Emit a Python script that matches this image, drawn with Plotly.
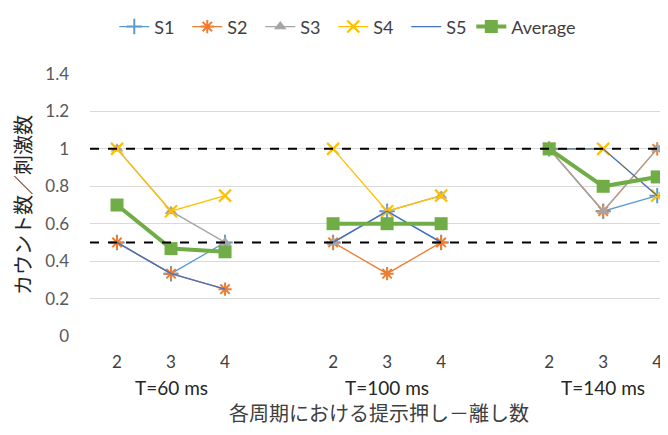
import plotly.graph_objects as go

groups = ["T=60 ms", "T=100 ms", "T=140 ms"]
counts = ["2", "3", "4"]

S1 = [0.5, 0.333, 0.5,   0.5, 0.667, 0.5,   1.0, 0.667, 0.75]
S2 = [0.5, 0.333, 0.25,  0.5, 0.333, 0.5,   1.0, 0.667, 1.0]
S3 = [1.0, 0.667, 0.5,   0.5, 0.667, 0.75,  1.0, 0.667, 1.0]
S4 = [1.0, 0.667, 0.75,  1.0, 0.667, 0.75,  1.0, 1.0, 0.75]
S5 = [0.5, 0.333, 0.25,  0.5, 0.667, 0.5,   1.0, 1.0, 0.75]
AVG = [0.70, 0.467, 0.45, 0.60, 0.60, 0.60, 1.0, 0.80, 0.85]

y_ticks = [0, 0.2, 0.4, 0.6, 0.8, 1.0, 1.2, 1.4]
y_ticklabels = ["0", "0.2", "0.4", "0.6", "0.8", "1", "1.2", "1.4"]
ref_lines = [1.0, 0.5]

FONT = "Lato, 'Noto Sans CJK JP', sans-serif"
JP_FONT = "'Noto Sans CJK JP', sans-serif"

# category positions: 3 per group, one empty slot between groups
xpos = []
for g in range(len(groups)):
    for j in range(len(counts)):
        xpos.append(g * (len(counts) + 1) + j)


def with_gaps(vals):
    xs, ys = [], []
    n = len(counts)
    for g in range(len(groups)):
        xs += xpos[g * n:(g + 1) * n]
        ys += vals[g * n:(g + 1) * n]
        if g < len(groups) - 1:
            xs.append(None)
            ys.append(None)
    return xs, ys


series = [
    ("S1", S1, "#5B9BD5", 1.3, dict(symbol="cross-thin-open", size=11, line=dict(width=2, color="#5B9BD5")), "lines+markers", "legend"),
    ("S2", S2, "#ED7D31", 1.3, dict(symbol="asterisk-open", size=11, line=dict(width=2, color="#ED7D31")), "lines+markers", "legend"),
    ("S3", S3, "#A5A5A5", 1.3, dict(symbol="triangle-up", size=11, color="#A5A5A5"), "lines+markers", "legend"),
    ("S4", S4, "#FFC000", 1.3, dict(symbol="x-thin-open", size=12, line=dict(width=2.2, color="#FFC000")), "lines+markers", "legend"),
    ("S5", S5, "#4472C4", 1.3, None, "lines", "legend"),
    ("Average", AVG, "#70AD47", 4, dict(symbol="square", size=13, color="#70AD47"), "lines+markers", "legend2"),
]

fig = go.Figure()
for name, vals, color, width, marker, mode, leg in series:
    xs, ys = with_gaps(vals)
    kw = dict(x=xs, y=ys, name=name, mode=mode, line=dict(color=color, width=width),
              connectgaps=False, legend=leg)
    if marker:
        kw["marker"] = marker
    fig.add_trace(go.Scatter(**kw))

for v in ref_lines:
    fig.add_shape(type="line", xref="paper", x0=0, x1=1, yref="y", y0=v, y1=v,
                  line=dict(color="black", width=2, dash="dash"), layer="above")

# group labels under tick labels
for g, lab in enumerate(groups):
    center = xpos[g * len(counts) + 1]
    fig.add_annotation(x=center, xref="x", y=0, yref="paper", yshift=-51,
                       text=lab, showarrow=False, yanchor="middle",
                       font=dict(family=FONT, size=19, color="#262626"))

legend_font = dict(family=FONT, size=18, color="#404040")

# the page places the figure 8px from the top-left corner
fig.update_layout(
    width=660, height=427,
    margin=dict(l=82, r=0, t=62, b=99),
    paper_bgcolor="white", plot_bgcolor="white",
    font=dict(family=FONT, size=14, color="#595959"),
    showlegend=True,
    legend=dict(orientation="h", x=0.042, xanchor="left", y=1.18, yanchor="middle",
                font=legend_font, itemwidth=30, bgcolor="rgba(0,0,0,0)",
                entrywidth=28, entrywidthmode="pixels", traceorder="normal"),
    legend2=dict(orientation="h", x=0.6597, xanchor="left", y=1.18, yanchor="middle",
                 font=legend_font, itemwidth=30, bgcolor="rgba(0,0,0,0)"),
    xaxis=dict(range=[-0.5, 10.2], tickvals=xpos, ticktext=counts * len(groups),
               showgrid=False, zeroline=False, showline=False, ticklabelstandoff=14,
               tickfont=dict(family=FONT, size=17, color="#404040"),
               title=dict(text="各周期における提示押し－離し数", standoff=35,
                          font=dict(family=JP_FONT, size=20, color="#404040"))),
    yaxis=dict(range=[0, 1.4], tickvals=y_ticks, ticktext=y_ticklabels,
               showgrid=True, gridcolor="#D9D9D9", gridwidth=1, zeroline=False,
               showline=False, ticklabelstandoff=20,
               tickfont=dict(family=FONT, size=17, color="#595959"),
               title=dict(text="カウント数／刺激数", standoff=11,
                          font=dict(family=JP_FONT, size=20, color="#262626"))),
)

fig.write_html("out.html")
